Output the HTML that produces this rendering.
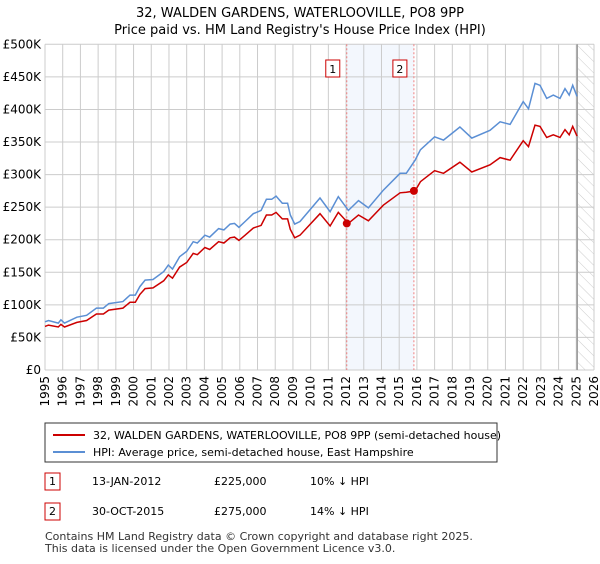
<!DOCTYPE html>
<html><head><meta charset="utf-8">
<style>
body{margin:0;background:#fff;font-family:"DejaVu Sans","Liberation Sans",sans-serif;}
svg text{font-family:"DejaVu Sans","Liberation Sans",sans-serif;}
</style></head>
<body>
<svg id="c" width="600" height="560" xmlns="http://www.w3.org/2000/svg">
<defs><pattern id="hatch" width="8" height="8" patternUnits="userSpaceOnUse" patternTransform="rotate(-45)"><line x1="0" y1="0" x2="0" y2="8" stroke="#ccc" stroke-width="1"/></pattern></defs>
<text x="300" y="17" text-anchor="middle" font-size="13">32, WALDEN GARDENS, WATERLOOVILLE, PO8 9PP</text>
<text x="300" y="34" text-anchor="middle" font-size="13">Price paid vs. HM Land Registry's House Price Index (HPI)</text>
<g id="plot"></g>
<g>
<rect x="45" y="423" width="452" height="39" fill="#fff" stroke="#333" stroke-width="1"/>
<line x1="53" y1="435" x2="85" y2="435" stroke="#cc0000" stroke-width="2"/>
<text x="93" y="439" font-size="11">32, WALDEN GARDENS, WATERLOOVILLE, PO8 9PP (semi-detached house)</text>
<line x1="53" y1="452" x2="85" y2="452" stroke="#5b8fd4" stroke-width="2"/>
<text x="93" y="456" font-size="11">HPI: Average price, semi-detached house, East Hampshire</text>
</g>
<g font-size="11">
<rect x="45" y="473" width="15" height="17" fill="#fff" stroke="#cc0000"/>
<text x="52.5" y="485" text-anchor="middle">1</text>
<text x="92" y="485">13-JAN-2012</text>
<text x="214" y="485">£225,000</text>
<text x="310" y="485">10% ↓ HPI</text>
<rect x="45" y="503" width="15" height="17" fill="#fff" stroke="#cc0000"/>
<text x="52.5" y="515" text-anchor="middle">2</text>
<text x="92" y="515">30-OCT-2015</text>
<text x="214" y="515">£275,000</text>
<text x="310" y="515">14% ↓ HPI</text>
</g>
<text x="45" y="540" font-size="11" fill="#333">Contains HM Land Registry data © Crown copyright and database right 2025.</text>
<text x="45" y="552" font-size="11" fill="#333">This data is licensed under the Open Government Licence v3.0.</text>
</svg>
<script>
const hpiYears=[1995.0,1995.2,1995.75,1995.9,1996.1,1996.8,1997.35,1997.9,1998.3,1998.6,1999.4,1999.8,2000.1,2000.36,2000.65,2001.1,2001.7,2001.96,2002.2,2002.6,2003.0,2003.37,2003.6,2004.03,2004.3,2004.8,2005.1,2005.45,2005.7,2005.95,2006.3,2006.76,2007.2,2007.5,2007.8,2008.05,2008.4,2008.7,2008.85,2009.1,2009.4,2010.53,2011.1,2011.56,2012.13,2012.7,2013.26,2014.1,2015.05,2015.4,2015.9,2016.2,2017.0,2017.5,2018.43,2019.1,2020.13,2020.7,2021.26,2022.0,2022.3,2022.67,2022.95,2023.33,2023.7,2024.08,2024.36,2024.6,2024.8,2025.04];
const hpiValues=[74,76,72,77,72,81,84,95,95,102,105,115,115,128,138,139,151,161,155,174,182,197,195,207,204,217,215,224,225,219,228,240,245,262,262,267,256,256,238,224,228,264,243,266,245,260,249,276,302,302,322,338,358,353,373,356,368,381,377,412,401,440,437,417,422,417,432,422,437,420];
const priceValues=[67,69,66,70,66,73,76,86,86,92,95,104,104,116,125,126,137,146,141,158,165,179,177,188,185,197,195,203,204,199,207,218,222,238,238,242,232,232,216,203,207,240,221,242,225,238,229,253,272,273,275,289,306,302,319,304,315,326,322,352,343,376,374,357,361,357,369,361,374,359];
const saleYears=[2012.04,2015.83];
const salePrices=[225,275];
const saleLabels=["1","2"];
const yTicks=[0,50,100,150,200,250,300,350,400,450,500];
const yTickLabels=["£0","£50K","£100K","£150K","£200K","£250K","£300K","£350K","£400K","£450K","£500K"];
const xTicks=[1995,1996,1997,1998,1999,2000,2001,2002,2003,2004,2005,2006,2007,2008,2009,2010,2011,2012,2013,2014,2015,2016,2017,2018,2019,2020,2021,2022,2023,2024,2025,2026];

const X0=45,X1=594,Y0=370,Y1=44.3,YR0=1995,YR1=2026,VMAX=500;
const xs=y=>X0+(y-YR0)/(YR1-YR0)*(X1-X0);
const ys=v=>Y0-v/VMAX*(Y0-Y1);
const NS="http://www.w3.org/2000/svg";
const g=document.getElementById('plot');
function mk(t,a){const e=document.createElementNS(NS,t);for(const k in a)e.setAttribute(k,a[k]);g.appendChild(e);return e;}
// shaded region
let e=mk('rect',{x:xs(saleYears[0]),y:Y1,width:xs(saleYears[1])-xs(saleYears[0]),height:Y0-Y1,fill:'#eef3fc',opacity:0.7});


// hatch future
e=mk('rect',{x:xs(2025.1),y:Y1,width:X1-xs(2025.1),height:Y0-Y1,fill:'url(#hatch)'});


// grid
xTicks.forEach(t=>{const l=mk('line',{x1:xs(t),x2:xs(t),y1:Y1,y2:Y0,stroke:'#cccccc','stroke-width':1});


const tx=mk('text',{x:0,y:0,'font-size':12,'text-anchor':'end',transform:`translate(${xs(t)+4},${Y0+6}) rotate(-90)`});tx.textContent=t;

});
yTicks.forEach((t,i)=>{const l=mk('line',{x1:X0,x2:X1,y1:ys(t),y2:ys(t),stroke:'#cccccc','stroke-width':1});


const tx=mk('text',{x:X0-4,y:ys(t)+4,'font-size':12,'text-anchor':'end'});tx.textContent=yTickLabels[i];

});
e=mk('line',{x1:xs(2025.05),x2:xs(2025.05),y1:Y1,y2:Y0,stroke:'#999','stroke-width':1.5});


// sale lines
saleYears.forEach((s,i)=>{const l=mk('line',{x1:xs(s),x2:xs(s),y1:Y1,y2:Y0,stroke:'#f08080','stroke-width':1,'stroke-dasharray':'2,2'});


const r=mk('rect',{x:xs(s)-21,y:60,width:14,height:17,fill:'#fff',stroke:'#cc0000'});


const t=mk('text',{x:xs(s)-14,y:73,'font-size':11,'text-anchor':'middle'});t.textContent=saleLabels[i];

});
function path(vals){return hpiYears.map((y,i)=>(i?'L':'M')+xs(y).toFixed(1)+','+ys(vals[i]).toFixed(1)).join('');}
e=mk('path',{d:path(hpiValues),fill:'none',stroke:'#5b8fd4','stroke-width':1.5});


e=mk('path',{d:path(priceValues),fill:'none',stroke:'#cc0000','stroke-width':1.5});


saleYears.forEach((s,i)=>{const c=mk('circle',{cx:xs(s),cy:ys(salePrices[i]),r:4,fill:'#cc0000'});

});
</script>
</body></html>
